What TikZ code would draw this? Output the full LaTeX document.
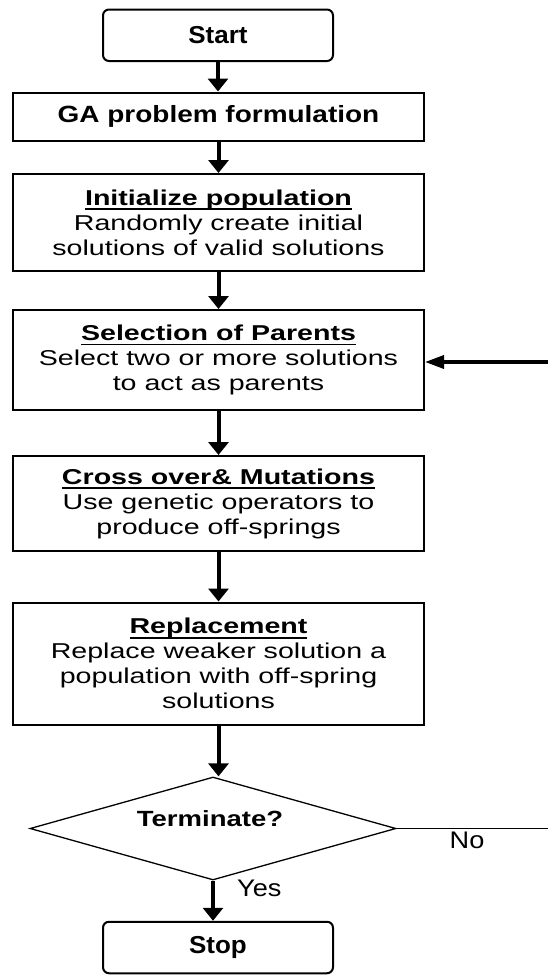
\documentclass[tikz,border=0pt]{standalone}
\usepackage{fontspec}
\setmainfont{Liberation Sans}
\newfontfamily\bodyf{Liberation Sans}[FakeStretch=1.33]
\newfontfamily\gaf{Liberation Sans}[FakeStretch=1.19]
\newfontfamily\ssf{Liberation Sans}[FakeStretch=1.06]
\newfontfamily\termf{Liberation Sans}[FakeStretch=1.25]
\newfontfamily\ynf{Liberation Sans}[FakeStretch=1.13]
\usetikzlibrary{arrows.meta,shapes.geometric}
\newsavebox\ulbox
\newcommand\ulx[1]{\sbox\ulbox{#1}\rlap{\rule[-5pt]{\wd\ulbox}{1.8pt}}\usebox\ulbox}
\begin{document}
\begin{tikzpicture}[x=1pt,y=-1pt,
  box/.style={draw=black, line width=2pt, minimum width=411pt, inner sep=0pt, align=center,
    font=\bodyf\fontsize{21.5}{25}\selectfont},
  term/.style={draw=black, line width=2pt, rounded corners=6pt, minimum width=230pt,
    minimum height=51.5pt, inner sep=0pt, font=\ssf\bfseries\fontsize{24.5}{28}\selectfont},
  dec/.style={diamond, draw=black, line width=1.3pt, minimum width=366pt, minimum height=103pt, inner sep=0pt},
  flow/.style={line width=4pt, -{Triangle[width=20pt,length=13pt]}},
  fb/.style={line width=3.5pt, -{Triangle[width=13pt,length=19pt]}},
  thinline/.style={line width=1.5pt},
  lab/.style={font=\ynf\fontsize{24}{28}\selectfont, inner sep=0pt, anchor=base west}
]
\useasboundingbox (0,0) rectangle (548,975);

\node[term] (start) at (218,35.25) {Start};
\node[box, minimum height=48pt, font=\gaf\bfseries\fontsize{23.5}{28}\selectfont] (ga) at (218.5,116.5) {GA problem formulation};
\node[box, minimum height=97pt] (init) at (218.5,222.5)
  {\ulx{\textbf{Initialize population}}\\Randomly create initial\\solutions of valid solutions};
\node[box, minimum height=99.5pt] (sel) at (218.5,359.75)
  {\ulx{\textbf{Selection of Parents}}\\Select two or more solutions\\to act as parents};
\node[box, minimum height=95pt] (cross) at (218.5,503.5)
  {\ulx{\textbf{Cross over\& Mutations}}\\Use genetic operators to\\produce off-springs};
\node[box, minimum height=122.5pt] (repl) at (218.5,663.75)
  {\ulx{\textbf{Replacement}}\\Replace weaker solution a\\population with off-spring\\solutions};
\node[dec] (dec) at (213,828.5) {};
\node[font=\termf\bfseries\fontsize{22}{26}\selectfont, anchor=base, inner sep=0pt] (termtxt) at (210,826.7) {Terminate?};
\node[term] (stop) at (218,947.5) {Stop};
\node[lab] (yes) at (237,896.7) {Yes};
\node[lab] (no) at (449.5,848) {No};

\coordinate (fbin) at (548,362);
\coordinate (noend) at (548,828.5);

\draw[flow] (start.south) -- (start.south |- ga.north);
\draw[flow] (ga.south) -- (init.north);
\draw[flow] (init.south) -- (sel.north);
\draw[flow] (sel.south) -- (cross.north);
\draw[flow] (cross.south) -- (repl.north);
\draw[flow] (repl.south) -- (repl.south |- dec.north);
\draw[flow] (dec.south) -- (dec.south |- stop.north);
\draw[fb] (fbin) -- (sel.east |- fbin);
\draw[thinline] (dec.east) -- (noend);
\end{tikzpicture}
\end{document}
